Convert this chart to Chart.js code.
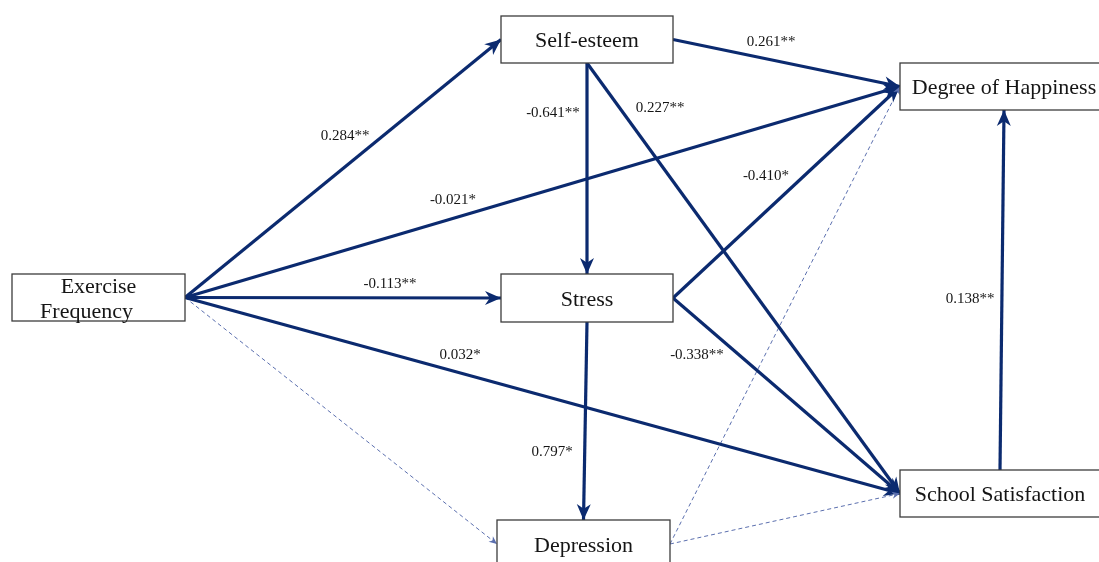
<!DOCTYPE html>
<html>
<head>
<meta charset="utf-8">
<script src="https://cdn.jsdelivr.net/npm/chart.js@4/dist/chart.umd.min.js"></script>
<style>
  html, body { margin: 0; padding: 0; background: #fff; overflow: hidden; }
  #wrap { width: 1099px; height: 562px; }
</style>
</head>
<body>
<div id="wrap"><canvas id="pathChart" width="1099" height="562"></canvas></div>
<script>
// --- DATA ---
const nodeNames = ["Exercise\nFrequency", "Self-esteem", "Stress", "Depression", "Degree of Happiness", "School Satisfaction"];

// path model: from node, to node, coefficient text
const pathFrom = [0, 0, 0, 0, 0, 1, 1, 1, 2, 2, 2, 5, 3, 3];
const pathTo   = [1, 4, 2, 5, 3, 4, 2, 5, 4, 5, 3, 4, 4, 5];
const pathCoef = ["0.284**", "-0.021*", "-0.113**", "0.032*", "", "0.261**", "-0.641**", "0.227**",
                  "-0.410*", "-0.338**", "0.797*", "0.138**", "", ""];
const pathSig  = [true, true, true, true, false, true, true, true, true, true, true, true, false, false];

// --- LAYOUT (diagram units = pixels of the 1099x562 picture) ---
const nodeCx = [98.5, 587, 587, 583.5, 1004, 1000];
const nodeCy = [297.5, 39.5, 298, 544, 86.5, 493.5];
const nodeW  = [173, 172, 172, 173, 208, 200];
const nodeH  = [47, 47, 48, 48, 47, 47];
const fromSide = ["r", "r", "r", "r", "r", "r", "b", "b", "r", "r", "b", "t", "r", "r"];
const toSide   = ["l", "l", "l", "l", "l", "l", "t", "l", "l", "l", "t", "b", "l", "l"];
const labelX = [345, 453, 390, 460, 0, 771, 553, 660, 766, 697, 552, 970, 0, 0];
const labelY = [136, 200, 284, 355, 0, 42, 113, 108, 176, 355, 452, 299, 0, 0];

const NAVY = "#0b2a6f";
const DASH = "#5b6fae";

function anchor(n, side) {
    const x = nodeCx[n], y = nodeCy[n], w = nodeW[n] / 2, h = nodeH[n] / 2;
    if (side === "r") return { x: x + w, y };
    if (side === "l") return { x: x - w, y };
    if (side === "t") return { x, y: y - h };
    return { x, y: y + h };
}

const datasets = pathFrom.map((f, i) => {
    const a = anchor(f, fromSide[i]);
    const b = anchor(pathTo[i], toSide[i]);
    return {
        data: [a, b],
        showLine: true,
        pointRadius: 0,
        borderColor: pathSig[i] ? NAVY : DASH,
        borderWidth: pathSig[i] ? 3.2 : 1,
        borderDash: pathSig[i] ? [] : [4, 3],
        fill: false
    };
});

// --- DIAGRAM PLUGIN: arrowheads, boxes, labels ---
const diagramPlugin = {
    id: "diagram",
    afterDatasetsDraw(chart) {
        const c = chart.ctx;
        const xs = chart.scales.x, ys = chart.scales.y;
        const px = v => xs.getPixelForValue(v);
        const py = v => ys.getPixelForValue(v);

        // arrowheads
        chart.data.datasets.forEach((ds, i) => {
            const p0 = ds.data[0], p1 = ds.data[1];
            const x0 = px(p0.x), y0 = py(p0.y), x1 = px(p1.x), y1 = py(p1.y);
            const ang = Math.atan2(y1 - y0, x1 - x0);
            const len = pathSig[i] ? 16 : 8, half = pathSig[i] ? 7 : 3.5;
            c.save();
            c.translate(x1, y1);
            c.rotate(ang);
            c.beginPath();
            c.moveTo(0, 0);
            c.lineTo(-len, -half);
            c.lineTo(-len * 0.7, 0);
            c.lineTo(-len, half);
            c.closePath();
            c.fillStyle = ds.borderColor;
            c.fill();
            c.restore();
        });

        // boxes
        nodeNames.forEach((name, n) => {
            const l = px(nodeCx[n] - nodeW[n] / 2), r = px(nodeCx[n] + nodeW[n] / 2);
            const t = py(nodeCy[n] - nodeH[n] / 2), b = py(nodeCy[n] + nodeH[n] / 2);
            c.save();
            c.fillStyle = "#fff";
            c.fillRect(l, t, r - l, b - t);
            c.strokeStyle = "#3c3c3c";
            c.lineWidth = 1.3;
            c.strokeRect(l, t, r - l, b - t);
            c.fillStyle = "#151515";
            c.font = "22px 'Liberation Serif', 'DejaVu Serif', serif";
            c.textAlign = "center";
            c.textBaseline = "middle";
            const lines = name.split("\n");
            const cx = px(nodeCx[n]), cy = py(nodeCy[n]);
            lines.forEach((ln, k) => {
                const dy = (k - (lines.length - 1) / 2) * 25;
                const dx = lines.length > 1 && k === 1 ? -12 : 0;
                c.fillText(ln, cx + dx, cy + dy + 2);
            });
            c.restore();
        });

        // coefficient labels
        c.save();
        c.fillStyle = "#151515";
        c.font = "15px 'Liberation Serif', 'DejaVu Serif', serif";
        c.textAlign = "center";
        c.textBaseline = "middle";
        pathCoef.forEach((txt, i) => {
            if (txt) c.fillText(txt, px(labelX[i]), py(labelY[i]));
        });
        c.restore();
    }
};

// --- CHART ---
new Chart(document.getElementById("pathChart"), {
    type: "scatter",
    data: { datasets },
    options: {
        responsive: false,
        animation: false,
        layout: { padding: 0 },
        scales: {
            x: { type: "linear", min: 0, max: 1099, display: false },
            y: { type: "linear", min: 0, max: 562, reverse: true, display: false }
        },
        plugins: { legend: { display: false }, tooltip: { enabled: false } }
    },
    plugins: [diagramPlugin]
});
</script>
</body>
</html>
